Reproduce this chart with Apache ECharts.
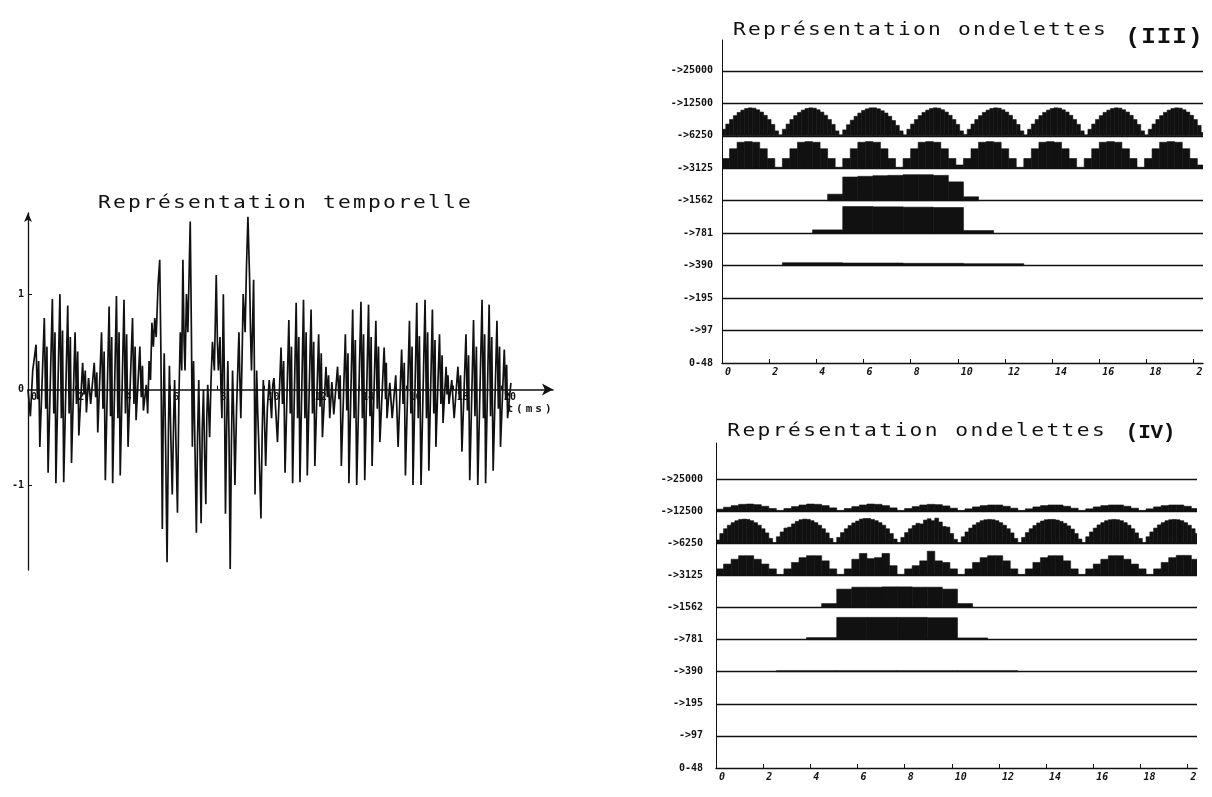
<!DOCTYPE html>
<html><head><meta charset="utf-8">
<script src="https://cdn.jsdelivr.net/npm/echarts@6/dist/echarts.min.js"></script>
<style>html,body{margin:0;padding:0;background:#fff}#c{width:1212px;height:797px}</style>
</head><body><div id="c"></div>
<script>
// ================= DATA =================
// time signal: [t (ms), amplitude], extremes
const signal = [
[0.00,0.00],[0.10,-0.28],[0.20,0.20],
[0.34,0.47],[0.40,-0.10],[0.45,0.30],[0.50,-0.60],
[0.69,0.75],[0.75,-0.20],[0.80,0.45],[0.85,-0.87],
[1.03,0.95],[1.09,-0.25],[1.14,0.60],[1.18,-0.98],
[1.35,1.00],[1.41,-0.30],[1.46,0.62],[1.51,-0.97],
[1.68,0.88],[1.74,-0.25],[1.79,0.55],[1.84,-0.77],
[1.99,0.60],[2.05,-0.15],[2.10,0.40],[2.15,-0.48],
[2.31,0.28],[2.37,-0.05],[2.42,0.20],[2.47,-0.24],
[2.56,0.12],[2.65,-0.15],
[2.80,0.28],[2.86,-0.08],[2.91,0.18],[2.95,-0.45],
[3.11,0.60],[3.17,-0.20],[3.22,0.40],[3.27,-0.95],
[3.43,0.87],[3.49,-0.28],[3.54,0.55],[3.58,-0.98],
[3.74,0.98],[3.80,-0.30],[3.85,0.60],[3.90,-0.90],
[4.06,0.94],[4.12,-0.25],[4.17,0.58],[4.23,-0.60],
[4.42,0.75],[4.48,-0.15],[4.53,0.45],[4.57,-0.32],
[4.73,0.45],[4.79,-0.08],[4.84,0.25],[4.88,-0.22],
[5.00,0.05],[5.06,-0.25],[5.12,0.30],[5.18,0.10],[5.24,0.70],[5.30,0.45],[5.36,0.75],[5.42,0.55],[5.50,1.10],[5.57,1.36],
[5.62,0.40],[5.68,-1.46],[5.72,-0.20],[5.76,0.38],[5.82,-0.60],[5.88,-1.81],[5.94,-0.40],[5.98,0.25],[6.04,-0.50],[6.10,-1.10],
[6.16,-0.30],[6.20,0.10],[6.26,-0.60],[6.32,-1.29],[6.38,-0.10],[6.44,0.60],[6.50,0.20],[6.55,1.36],[6.60,0.50],[6.64,0.20],
[6.70,1.00],[6.76,0.60],[6.86,1.76],[6.91,0.60],[6.95,-0.60],[7.00,0.30],[7.05,0.30],[7.12,-1.50],[7.17,-0.50],[7.22,0.10],
[7.27,-0.60],[7.32,-1.40],[7.37,-0.40],[7.42,0.00],[7.47,-0.70],[7.52,-1.20],[7.56,-0.30],[7.60,0.05],[7.64,-0.20],[7.68,-0.50],
[7.74,0.10],[7.80,0.50],[7.88,0.20],[7.96,1.20],[8.01,0.50],[8.05,0.20],[8.12,0.55],[8.16,0.00],[8.20,-0.30],[8.26,1.00],
[8.30,0.20],[8.35,-1.30],[8.40,-0.40],[8.45,0.30],[8.50,-0.50],[8.55,-1.88],[8.60,-0.60],[8.65,0.20],[8.70,-0.30],[8.75,-1.00],
[8.82,-0.20],[8.92,0.60],[8.96,0.10],[9.00,-0.30],[9.05,0.30],[9.10,1.00],[9.18,0.60],[9.24,1.30],[9.30,1.81],[9.37,1.17],
[9.41,0.60],[9.45,0.20],[9.50,0.70],[9.54,1.15],[9.57,0.30],[9.60,-1.10],[9.64,-0.30],[9.67,0.20],[9.71,-0.20],[9.75,-0.50],
[9.80,-0.90],[9.85,-1.35],[9.90,-0.50],[9.95,0.10],[10.00,-0.30],[10.05,-0.80],[10.12,-0.20],[10.20,0.10],[10.25,-0.10],[10.30,-0.30],
[10.35,0.05],[10.40,0.12],
[10.55,-0.55],
[10.70,0.44],[10.76,-0.15],[10.81,0.30],[10.87,-0.87],
[11.03,0.73],[11.09,-0.25],[11.14,0.45],[11.19,-0.98],
[11.34,0.91],[11.40,-0.30],[11.45,0.55],[11.50,-0.97],
[11.65,0.94],[11.71,-0.30],[11.76,0.60],[11.81,-0.90],
[11.97,0.84],[12.03,-0.25],[12.08,0.50],[12.13,-0.80],
[12.29,0.58],[12.35,-0.18],[12.40,0.38],[12.45,-0.50],
[12.60,0.24],[12.66,-0.08],[12.71,0.15],[12.76,-0.30],
[12.85,0.08],[12.93,-0.26],
[13.09,0.24],[13.15,-0.10],[13.20,0.15],[13.25,-0.80],
[13.42,0.58],[13.48,-0.22],[13.53,0.38],[13.57,-0.98],
[13.73,0.84],[13.79,-0.30],[13.84,0.52],[13.90,-1.00],
[14.08,0.92],[14.14,-0.30],[14.19,0.58],[14.24,-0.95],
[14.40,0.89],[14.46,-0.28],[14.51,0.55],[14.55,-0.80],
[14.71,0.72],[14.77,-0.20],[14.82,0.45],[14.88,-0.55],
[15.06,0.44],[15.12,-0.10],[15.15,0.28],[15.18,-0.30],
[15.30,0.07],[15.40,-0.30],[15.55,0.15],[15.65,-0.60],
[15.80,0.42],[15.86,-0.15],[15.91,0.28],[15.96,-0.90],
[16.13,0.72],[16.19,-0.25],[16.24,0.45],[16.28,-1.00],
[16.44,0.91],[16.50,-0.30],[16.55,0.56],[16.62,-1.00],
[16.79,0.94],[16.85,-0.30],[16.90,0.60],[16.95,-0.85],
[17.10,0.84],[17.16,-0.25],[17.21,0.52],[17.25,-0.60],
[17.40,0.58],[17.46,-0.15],[17.51,0.36],[17.55,-0.35],
[17.68,0.24],[17.72,-0.05],[17.76,0.15],[17.80,-0.15],
[17.92,0.10],[18.02,-0.30],
[18.18,0.24],[18.24,-0.10],[18.29,0.15],[18.35,-0.65],
[18.52,0.58],[18.58,-0.22],[18.63,0.36],[18.68,-0.95],
[18.84,0.73],[18.90,-0.28],[18.96,0.45],[19.02,-1.00],
[19.20,0.94],[19.26,-0.30],[19.31,0.58],[19.35,-0.98],
[19.50,0.89],[19.56,-0.28],[19.61,0.55],[19.67,-0.85],
[19.83,0.72],[19.89,-0.20],[19.94,0.45],[19.98,-0.60],
[20.14,0.42],[20.20,-0.10],[20.24,0.26],[20.28,-0.30],
[20.42,0.07]
];
const signalTicks = [0,2,4,6,8,10,12,14,16,18,20];
const signalTickLabels = ['0','2','4','6','8','10','12','14','16','18','20'];
const amplitudeTicks = [-1,0,1];
const amplitudeLabels = ['-1','0','1'];

// wavelet rows (bottom to top) and time ticks
const rowLabels = ['0-48','->97','->195','->390','->781','->1562','->3125','->6250','->12500','->25000'];
const waveTicks = [0,2,4,6,8,10,12,14,16,18,20];
const waveTickLabels = ['0','2','4','6','8','10','12','14','16','18','2'];

// band amplitudes (fraction of a row), one value per wavelet sample over 20.48 ms
// --- (III)
const iii6250 = [
0.20,0.36,0.50,0.62,0.72,0.79,0.84,0.86,0.85,0.80,0.73,0.63,0.50,0.35,0.15,
0.03,0.20,0.36,0.50,0.62,0.72,0.79,0.84,0.86,0.85,0.80,0.73,0.63,0.50,0.35,0.15,
0.03,0.18,0.34,0.48,0.60,0.70,0.78,0.83,0.86,0.86,0.83,0.77,0.70,0.60,0.47,0.32,0.15,
0.03,0.20,0.36,0.50,0.62,0.72,0.79,0.84,0.86,0.85,0.80,0.73,0.63,0.50,0.35,0.15,
0.04,0.20,0.36,0.50,0.62,0.72,0.79,0.84,0.86,0.85,0.80,0.73,0.63,0.50,0.35,0.15,
0.03,0.20,0.36,0.50,0.62,0.72,0.79,0.84,0.86,0.85,0.80,0.73,0.63,0.50,0.35,0.15,
0.03,0.20,0.36,0.50,0.62,0.72,0.79,0.84,0.86,0.85,0.80,0.73,0.63,0.50,0.35,0.15,
0.03,0.20,0.36,0.50,0.62,0.72,0.79,0.84,0.86,0.85,0.80,0.73,0.63,0.50,0.32,0.10
];
const iii3125 = [
0.30,0.60,0.80,0.82,0.80,0.60,0.30,0.03,
0.30,0.60,0.80,0.82,0.80,0.60,0.30,0.03,
0.30,0.60,0.80,0.82,0.80,0.60,0.30,0.03,
0.30,0.60,0.80,0.82,0.80,0.60,0.30,0.10,
0.30,0.60,0.80,0.82,0.80,0.60,0.30,0.03,
0.30,0.60,0.80,0.82,0.80,0.60,0.30,0.03,
0.30,0.60,0.80,0.82,0.80,0.60,0.30,0.03,
0.30,0.60,0.80,0.82,0.80,0.60,0.30,0.10
];
const iii1562 = [0,0,0,0,0,0,0,0.20,0.73,0.75,0.77,0.78,0.80,0.80,0.78,0.58,0.12,0,0,0,0,0,0,0,0,0,0,0,0,0,0,0];
const iii781 = [0,0,0,0.10,0.82,0.81,0.80,0.79,0.08,0,0,0,0,0,0,0];
const iii390 = [0,0.09,0.08,0.07,0.06,0,0,0];
// --- (IV)
const iv12500 = [
0.06,0.12,0.17,0.21,0.22,0.20,0.15,0.08,
0.02,0.08,0.14,0.19,0.22,0.21,0.17,0.10,
0.02,0.08,0.14,0.19,0.22,0.21,0.17,0.10,
0.02,0.08,0.14,0.19,0.21,0.20,0.16,0.09,
0.02,0.07,0.13,0.17,0.19,0.19,0.15,0.09,
0.02,0.07,0.13,0.17,0.19,0.19,0.15,0.09,
0.02,0.07,0.13,0.17,0.19,0.19,0.15,0.09,
0.02,0.07,0.13,0.17,0.19,0.19,0.15,0.08
];
const iv6250 = [
0.10,0.30,0.45,0.56,0.64,0.70,0.74,0.75,0.74,0.70,0.64,0.56,0.45,0.32,0.15,
0.02,0.20,0.35,0.47,0.50,0.60,0.68,0.73,0.75,0.74,0.70,0.64,0.56,0.45,0.32,0.15,
0.02,0.18,0.33,0.45,0.55,0.63,0.69,0.75,0.77,0.77,0.74,0.70,0.64,0.56,0.45,0.30,0.13,
0.02,0.18,0.33,0.45,0.55,0.62,0.60,0.72,0.76,0.70,0.78,0.66,0.52,0.50,0.30,0.12,
0.02,0.20,0.35,0.47,0.57,0.64,0.70,0.73,0.74,0.73,0.70,0.64,0.56,0.45,0.32,0.15,
0.02,0.18,0.33,0.45,0.55,0.63,0.69,0.73,0.74,0.74,0.72,0.68,0.62,0.54,0.44,0.30,0.13,
0.02,0.20,0.35,0.47,0.57,0.64,0.70,0.73,0.74,0.73,0.70,0.64,0.56,0.45,0.32,0.15,
0.02,0.20,0.35,0.47,0.57,0.64,0.70,0.73,0.74,0.73,0.70,0.64,0.56,0.45,0.30
];
const iv3125 = [
0.20,0.35,0.50,0.61,0.61,0.50,0.35,0.20,
0.03,0.20,0.40,0.55,0.61,0.61,0.45,0.20,
0.03,0.20,0.50,0.68,0.52,0.55,0.68,0.30,
0.03,0.20,0.30,0.45,0.75,0.45,0.40,0.20,
0.03,0.20,0.40,0.55,0.61,0.61,0.45,0.20,
0.03,0.20,0.40,0.55,0.61,0.61,0.45,0.20,
0.03,0.20,0.35,0.50,0.61,0.61,0.50,0.35,0.20,
0.03,0.20,0.40,0.55,0.62,0.62,0.50
];
const iv1562 = [0,0,0,0,0,0,0,0.12,0.57,0.63,0.63,0.64,0.64,0.63,0.63,0.57,0.12,0,0,0,0,0,0,0,0,0,0,0,0,0,0,0];
const iv781 = [0,0,0,0.06,0.69,0.69,0.69,0.68,0.05,0,0,0,0,0,0,0];
const iv390 = [0,0.03,0.03,0.03,0.03,0,0,0];

// ================= CHART =================
const INK = '#111111';
const MONO = '"DejaVu Sans Mono","Liberation Mono",monospace';
const SPAN = 20.48; // wavelet record length (ms)

function bandItems(values, row) {
  const dt = SPAN / values.length;
  return values.map((v, i) => [i * dt, (i + 1) * dt, row, v]);
}
function renderBand(params, api) {
  const t0 = api.value(0), t1 = api.value(1), r = api.value(2), h = api.value(3);
  if (!(h > 0)) return null;
  const a = api.coord([t0, r + h]);
  const b = api.coord([t1, r]);
  return { type: 'rect', shape: { x: a[0], y: a[1], width: b[0] - a[0], height: b[1] - a[1] },
           style: { fill: INK, stroke: INK, lineWidth: 0.6 } };
}
const rowLines = [1,2,3,4,5,6,7,8,9].map(r => ({ yAxis: r }));
function waveSeries(idx, items) {
  return {
    type: 'custom', xAxisIndex: idx, yAxisIndex: idx, clip: true,
    renderItem: renderBand, data: items, encode: { x: [0, 1], y: [2, 3] },
    silent: true,
    markLine: { symbol: 'none', silent: true, label: { show: false },
      lineStyle: { color: INK, width: 1.4, type: 'solid' }, data: rowLines, animation: false }
  };
}
const itemsIII = [].concat(
  bandItems(iii6250, 7), bandItems(iii3125, 6), bandItems(iii1562, 5),
  bandItems(iii781, 4), bandItems(iii390, 3));
const itemsIV = [].concat(
  bandItems(iv12500, 8), bandItems(iv6250, 7), bandItems(iv3125, 6), bandItems(iv1562, 5),
  bandItems(iv781, 4), bandItems(iv390, 3));

function waveX(gi) {
  return {
    gridIndex: gi, type: 'value', min: 0, max: 20.4, interval: 2,
    axisLine: { show: true, onZero: false, lineStyle: { color: INK, width: 1.4 } },
    splitLine: { show: false },
    axisTick: { show: true, inside: true, length: 4, customValues: waveTicks, lineStyle: { color: INK } },
    axisLabel: { show: true, customValues: waveTicks, margin: 4, align: 'left', padding: [0, 0, 0, 3],
      formatter: v => { const i = waveTicks.indexOf(v); return i >= 0 ? waveTickLabels[i] : ''; },
      fontFamily: MONO, fontSize: 10, fontWeight: 'bold', fontStyle: 'italic', color: INK }
  };
}
function waveY(gi, max, margin) {
  return {
    gridIndex: gi, type: 'value', min: 0, max: max, interval: 1,
    axisLine: { show: true, onZero: false, lineStyle: { color: INK, width: 1 } },
    axisTick: { show: false }, splitLine: { show: false },
    axisLabel: { show: true, customValues: [0,1,2,3,4,5,6,7,8,9], margin: margin,
      formatter: v => (Number.isInteger(v) && rowLabels[v] !== undefined) ? rowLabels[v] : '',
      fontFamily: MONO, fontSize: 10, fontWeight: 'bold', color: INK }
  };
}

function spaced(str, x0, yc, pitch, font, weight, sx) {
  return Array.from(str).map((ch, i) => ({
    type: 'text', x: x0 + pitch * (i + 0.5), y: yc, silent: true, scaleX: sx || 1,
    style: { text: ch, fill: INK, font: (weight || 'normal') + ' ' + font, align: 'center', verticalAlign: 'middle' }
  }));
}

// left chart geometry: y range -1.89..1.85 over 357 px, x axis drawn at amplitude 0
const LEFT_TOP = 213, LEFT_H = 357, Y_MIN = -1.89, Y_MAX = 1.85;
const zeroOffset = -LEFT_H * (0 - Y_MIN) / (Y_MAX - Y_MIN);

const option = {
  animation: false,
  backgroundColor: '#ffffff',
  grid: [
    { left: 28, top: LEFT_TOP, width: 525, height: LEFT_H },
    { left: 722, top: 40, width: 481, height: 323 },
    { left: 716, top: 443, width: 481, height: 325 }
  ],
  xAxis: [
    { gridIndex: 0, type: 'value', min: 0, max: 22.2, position: 'bottom', offset: zeroOffset,
      axisLine: { show: true, onZero: false, symbol: ['none', 'arrow'], symbolSize: [9, 11],
        lineStyle: { color: INK, width: 1.5 } },
      splitLine: { show: false },
      axisTick: { show: true, length: 4, inside: true, customValues: signalTicks, lineStyle: { color: INK } },
      axisLabel: { show: true, customValues: signalTicks, margin: 3, align: 'left', padding: [0, 0, 0, 3],
        formatter: v => { const i = signalTicks.indexOf(v); return i >= 0 ? signalTickLabels[i] : ''; },
        fontFamily: MONO, fontSize: 10, fontWeight: 'bold', color: INK } },
    waveX(1), waveX(2)
  ],
  yAxis: [
    { gridIndex: 0, type: 'value', min: Y_MIN, max: Y_MAX,
      axisLine: { show: true, onZero: false, symbol: ['none', 'arrow'], symbolSize: [6, 9],
        lineStyle: { color: INK, width: 1.3 } },
      splitLine: { show: false },
      axisTick: { show: true, length: 4, inside: true, customValues: [-1, 1], lineStyle: { color: INK } },
      axisLabel: { show: true, customValues: amplitudeTicks, margin: 4,
        formatter: v => { const i = amplitudeTicks.indexOf(v); return i >= 0 ? amplitudeLabels[i] : ''; },
        fontFamily: MONO, fontSize: 10, fontWeight: 'bold', color: INK } },
    waveY(1, 9.95, 9), waveY(2, 10.12, 13)
  ],
  series: [
    { type: 'line', xAxisIndex: 0, yAxisIndex: 0, data: signal, showSymbol: false, symbol: 'none',
      silent: true, lineStyle: { color: INK, width: 1.7, join: 'miter', miterLimit: 3 }, clip: false },
    waveSeries(1, itemsIII),
    waveSeries(2, itemsIV)
  ],
  graphic: [].concat(
    spaced('Représentation temporelle', 97, 204, 15, '17px ' + MONO, 'normal', 1.25),
    spaced('Représentation ondelettes', 732, 31, 15, '17px ' + MONO, 'normal', 1.25),
    spaced('(III)', 1125, 37, 15.6, '22px "Liberation Mono",monospace', 'bold', 1.1),
    spaced('Représentation ondelettes', 726, 432, 15.2, '17px ' + MONO, 'normal', 1.25),
    spaced('(IV)', 1126, 433, 12.3, '21px "Liberation Mono",monospace', 'bold', 1),
    spaced('t(ms)', 505, 409, 9.6, 'bold 11px ' + MONO)
  )
};
const chart = echarts.init(document.getElementById('c'));
chart.setOption(option);
</script>
</body></html>
